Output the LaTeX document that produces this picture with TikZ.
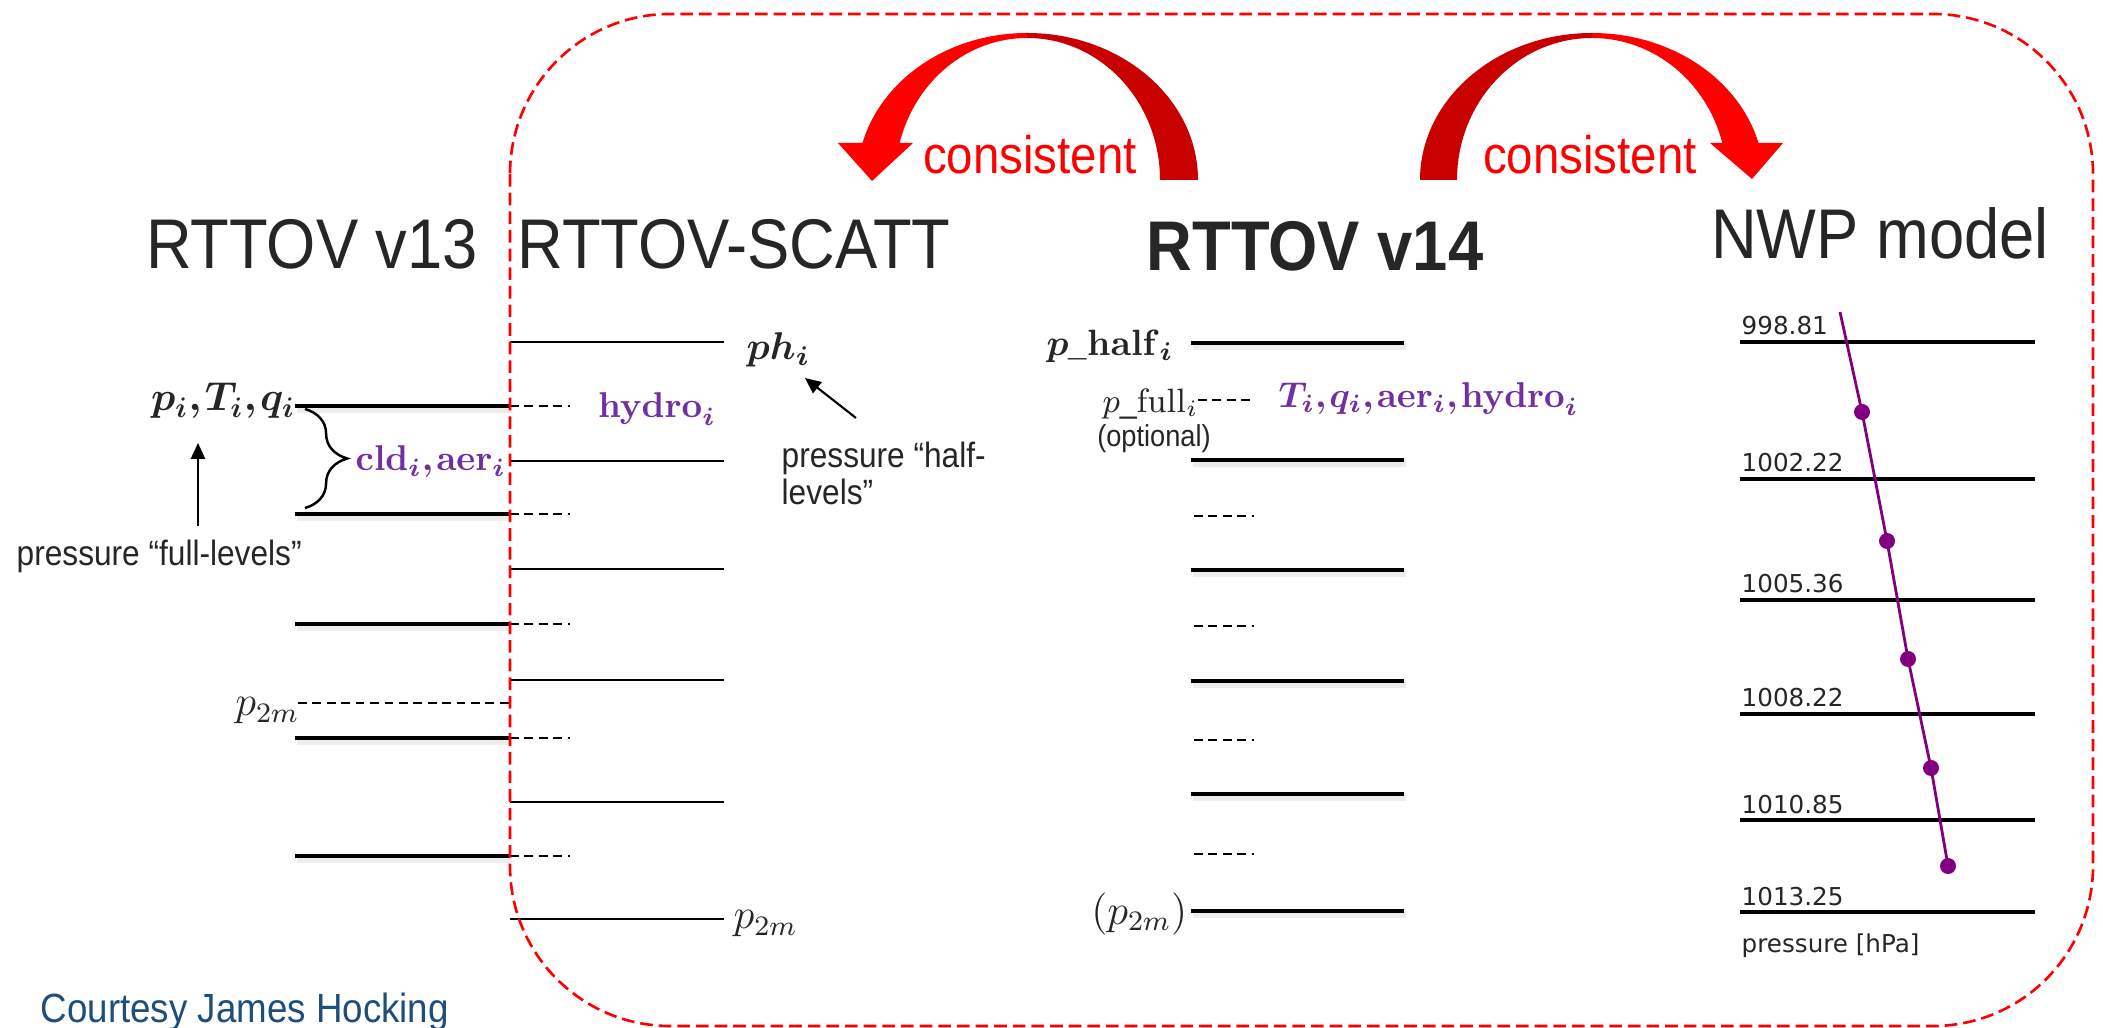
\RequirePackage{fix-cm}
\documentclass[tikz,border=0pt]{standalone}
\usepackage[no-math]{fontspec}
\setmainfont{Liberation Sans}[FakeStretch=0.9]
\newfontfamily\nwpfont{DejaVu Sans}
\usepackage{amsmath}
\usepackage{bm}
\usetikzlibrary{positioning, arrows.meta, calc, decorations.pathreplacing}

\definecolor{labpurple}{HTML}{7030A0}
\definecolor{nwppurple}{HTML}{800080}
\definecolor{boxred}{HTML}{FF0000}
\definecolor{arcdark}{HTML}{C80000}
\definecolor{txtgray}{HTML}{262626}
\definecolor{credblue}{HTML}{1F4E79}

\newcommand{\bmath}[1]{\ensuremath{\bm{#1}}}
\newcommand{\sep}{{,}\mkern1.5mu}

\begin{document}
\sbox0{\fontsize{12}{14}\selectfont$\bm{x}\mathbf{x}_{2m}$}
\begin{tikzpicture}[
    x=0.01cm, y=-0.01cm,
    title/.style={font=\fontsize{20}{24}\selectfont, text=txtgray, inner sep=0pt},
    note/.style={font=\fontsize{10}{12}\selectfont, text=txtgray, align=left, inner sep=0pt},
    mlab/.style={font=\fontsize{11.5}{14}\selectfont, text=txtgray, inner sep=0pt},
    plab/.style={font=\fontsize{10.2}{13}\selectfont, text=labpurple, inner sep=0pt},
    nwplab/.style={font=\nwpfont\fontsize{7}{8}\selectfont, text=txtgray, inner sep=0pt},
    fulllev/.style={line width=1.35pt},
    levshadow/.style={line width=2.5pt, black!7},
    halflev/.style={line width=0.6pt},
    dashlev/.style={line width=0.5pt, dash pattern=on 2.5pt off 1.6pt},
    nwplev/.style={line width=1.15pt},
    redbox/.style={boxred, line width=0.75pt, dash pattern=on 3.6pt off 1.7pt, rounded corners=1.6cm},
    arr/.style={-{Triangle[length=4.5pt, width=4pt]}, line width=0.6pt},
    agree/.style={font=\fontsize{15}{18}\selectfont, text=boxred, inner sep=0pt},
    profile/.style={nwppurple, line width=0.8pt}
]
    \useasboundingbox (0,0) rectangle (2103,1028);

    \node[title] (v13) at (312,244) {RTTOV v13};
    \node[title] (scatt) at (734,244) {RTTOV-SCATT};
    \node[title, font=\fontsize{20}{24}\selectfont\bfseries] (v14) at (1315,246) {RTTOV v14};
    \node[title] (nwp) at (1880,233) {NWP model};

    % consistency arrows
    \fill[arcdark] (1027,33) arc[start angle=270, end angle=360, x radius=171, y radius=147]
        -- (1160,180) arc[start angle=0, end angle=-90, x radius=133, y radius=142] -- cycle;
    \fill[boxred] (1027,33) arc[start angle=270, end angle=194.6, x radius=170, y radius=147]
        -- (838,143) -- (872,181) -- (913,143) -- (899.6,143)
        arc[start angle=195.1, end angle=270, x radius=132, y radius=142] -- cycle;
    \fill[arcdark] (1592,33) arc[start angle=270, end angle=180, x radius=172, y radius=147]
        -- (1457,180) arc[start angle=180, end angle=270, x radius=135, y radius=142] -- cycle;
    \fill[boxred] (1592,33) arc[start angle=270, end angle=345.4, x radius=172, y radius=147]
        -- (1783,143) -- (1752,179) -- (1710,143) -- (1722.3,143)
        arc[start angle=344.9, end angle=270, x radius=135, y radius=142] -- cycle;
    \node[agree] (cons1) at (1030,155) {consistent};
    \node[agree] (cons2) at (1590,155) {consistent};

    % RTTOV v13 / RTTOV-SCATT
    \foreach \y in {406,514,624,738,856} {
        \draw[levshadow] (297,\y+3) -- (512,\y+3);
        \draw[fulllev] (295,\y) -- (510,\y);
        \draw[dashlev] (510,\y) -- (570,\y);
    }
    \foreach \y in {342,461,569,680,802,919}
        \draw[halflev] (510,\y) -- (724,\y);
    \draw[dashlev] (298,703) -- (510,703);

    \node[mlab, anchor=east] (ptq) at (296,401) {\bmath{p_i\sep T_i\sep q_i}};
    \node[plab, anchor=west] (cldaer) at (355,462) {\bmath{\mathbf{cld}_i\sep\mathbf{aer}_i}};
    \draw[decorate, decoration={brace, amplitude=12pt}, line width=0.7pt] (305,409) -- (305,508);
    \node[note, anchor=west] (fulltxt) at (16,556) {pressure “full-levels”};
    \coordinate (fullarr) at (198,526);
    \coordinate (ptqfoot) at (198,443);
    \draw[arr] (fullarr) -- (ptqfoot);
    \node[mlab, font=\fontsize{12}{14}\selectfont, anchor=east] (p2mleft) at (300,711) {$p_{2m}$};

    \node[plab] (hydro) at (657,409) {\bmath{\mathbf{hydro}_i}};
    \node[mlab, font=\fontsize{11}{13}\selectfont, anchor=west] (ph) at (746,350) {\bmath{ph_i}};
    \node[note, font=\fontsize{10}{10.5}\selectfont, anchor=north west] (halftxt) at (781,441) {pressure “half-\\levels”};
    \coordinate (halfarr) at (856,418);
    \coordinate (phfoot) at (805,378);
    \draw[arr] (halfarr) -- (phfoot);
    \node[mlab, font=\fontsize{12}{14}\selectfont, anchor=west] (p2mscatt) at (733,924) {$p_{2m}$};

    % RTTOV v14
    \foreach \y in {343,460,570,681,794,911} {
        \draw[levshadow] (1193,\y+3) -- (1406,\y+3);
        \draw[fulllev] (1191,\y) -- (1404,\y);
    }
    \draw[dashlev] (1198,400) -- (1254,400);
    \foreach \y in {516,626,740,854}
        \draw[dashlev] (1194,\y) -- (1254,\y);
    \node[mlab, font=\fontsize{10.4}{13}\selectfont, anchor=east] (phalf) at (1174,346) {\bmath{p}\textbf{\_}\bmath{\mathbf{half}_i}};
    \node[mlab, font=\fontsize{9.6}{12}\selectfont, anchor=east] (pfull) at (1199,404) {$p$\_$\mathrm{full}_i$};
    \node[note, font=\fontsize{8.6}{10}\selectfont] (opt) at (1154,439) {(optional)};
    \node[plab, anchor=west] (v14vars) at (1278,399) {\bmath{T_i\sep q_i\sep \mathbf{aer}_i\sep \mathbf{hydro}_i}};
    \node[mlab, font=\fontsize{12}{14}\selectfont, anchor=east] (p2mv14) at (1188,914) {$(p_{2m})$};

    % NWP model
    \foreach \y/\p [count=\k] in {342/998.81, 479/1002.22, 600/1005.36, 714/1008.22, 820/1010.85, 912/1013.25} {
        \draw[nwplev] (1740,\y) -- (2035,\y);
        \node[nwplab, anchor=base west] (nwp\k) at (1741,\y-7) {\p};
    }
    \node[nwplab, anchor=base west] (hpa) at (1741,952) {pressure [hPa]};
    \draw[profile] (1840,312) -- (1862,412) -- (1887,541) -- (1908,659) -- (1931,768) -- (1948,866);
    \foreach \x/\y in {1862/412, 1887/541, 1908/659, 1931/768, 1948/866}
        \fill[nwppurple] (\x,\y) circle[radius=8];

    \node[note, font=\fontsize{11.6}{14}\selectfont, text=credblue, anchor=west] (credit) at (40,1012) {Courtesy James Hocking};

    \draw[redbox] (510,14) rectangle (2093,1026);
\end{tikzpicture}
\end{document}
